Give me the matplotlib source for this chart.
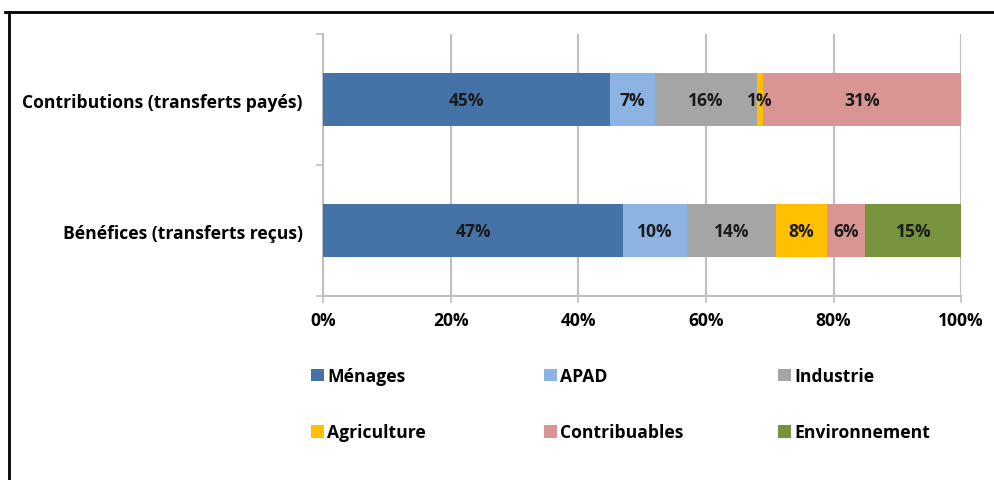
import matplotlib
matplotlib.use("Agg")
import matplotlib.pyplot as plt
from matplotlib.patches import Patch
from matplotlib.lines import Line2D
import numpy as np

plt.rcParams['font.family'] = ['Open Sans', 'DejaVu Sans']
plt.rcParams['font.weight'] = 'bold'

# categories (bottom to top) and the share of each sector, in %
categories = ["Bénéfices (transferts reçus)", "Contributions (transferts payés)"]
sectors = ["Ménages", "APAD", "Industrie", "Agriculture", "Contribuables", "Environnement"]
menages = [47, 45]
apad = [10, 7]
industrie = [14, 16]
agriculture = [8, 1]
contribuables = [6, 31]
environnement = [15, 0]
x_ticks = [0, 20, 40, 60, 80, 100]
x_labels = ["0%", "20%", "40%", "60%", "80%", "100%"]

series = [menages, apad, industrie, agriculture, contribuables, environnement]
colors = ["#4572A7", "#8DB3E2", "#A5A5A5", "#FFC000", "#D99594", "#77933C"]
grid_col = "#BFBFBF"
fs = 12.6

fig = plt.figure(figsize=(9.94, 4.81), dpi=100)
ax = fig.add_axes([0.325, 0.3825, 0.642, 0.5445])

ypos = np.arange(len(categories)) + 0.5
left = np.zeros(len(categories))
for vals, col in zip(series, colors):
    vals = np.array(vals, dtype=float)
    ax.barh(ypos, vals, left=left, height=0.40, color=col, zorder=3)
    for y, l, v in zip(ypos, left, vals):
        if v > 0:
            ax.text(l + v / 2, y, f"{int(v)}%", ha="center", va="center",
                    fontsize=fs, fontweight="bold", color="#1a1a1a", zorder=4)
    left += vals

ax.set_xlim(0, 100)
ax.set_ylim(0, 2)
ax.set_xticks(x_ticks)
ax.set_xticklabels(x_labels, fontsize=fs, fontweight="bold")
ax.set_yticks(ypos)
ax.set_yticklabels(categories, fontsize=fs, fontweight="bold")
ax.set_yticks([0, 1, 2], minor=True)
ax.tick_params(axis="y", which="major", length=0, pad=14.5)
ax.tick_params(axis="y", which="minor", length=5, color=grid_col, width=1.2)
ax.tick_params(axis="x", length=5, color=grid_col, width=1.2, pad=6)

ax.grid(axis="x", color=grid_col, linewidth=1.5, zorder=0)
for s in ["top", "right"]:
    ax.spines[s].set_visible(False)
for s in ["left", "bottom"]:
    ax.spines[s].set_color(grid_col)
    ax.spines[s].set_linewidth(1.5)

# legend: three columns of two entries
handles = [Patch(facecolor=c) for c in colors]
col_x = [0.3129, 0.5473, 0.7827]
for i, x in enumerate(col_x):
    idx = [i, i + 3]
    fig.legend([handles[j] for j in idx], [sectors[j] for j in idx],
               loc="upper left", bbox_to_anchor=(x, 0.2345), frameon=False,
               prop={"size": fs, "weight": "bold"}, handlelength=0.74,
               handleheight=0.74, handletextpad=0.2, labelspacing=2.18,
               borderpad=0, borderaxespad=0)

# frame lines along the top and left edge
fig.add_artist(Line2D([0.005, 1.0], [0.974, 0.974], color="black", linewidth=2))
fig.add_artist(Line2D([0.009, 0.009], [0.0, 0.974], color="black", linewidth=2))

fig.savefig("out.png", dpi=100)
